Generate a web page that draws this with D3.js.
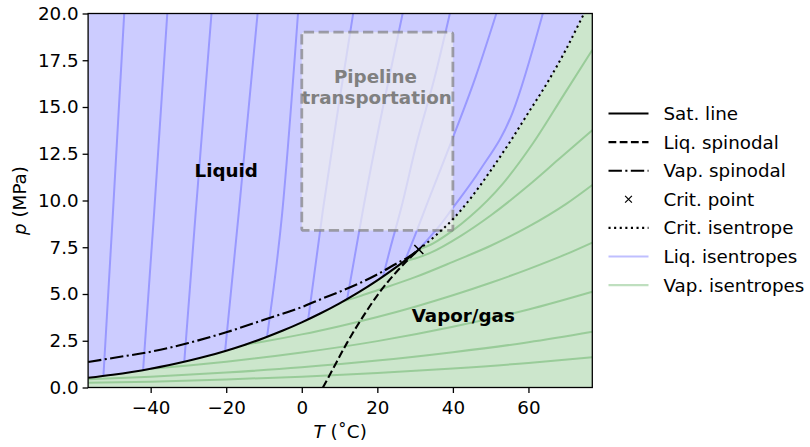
<!doctype html>
<meta charset='utf-8'>
<body style='margin:0;background:#fff'>
<script src='https://cdn.jsdelivr.net/npm/d3@7'></script>
<script>

// CO2 phase diagram
var satT = [-56.56, -50, -45, -40, -35, -30, -25, -20, -15, -10, -5, 0, 5, 10, 15, 20, 25, 28, 30, 30.98];
var satP = [0.518, 0.682, 0.832, 1.005, 1.203, 1.428, 1.682, 1.970, 2.291, 2.649, 3.046, 3.485, 3.969, 4.502, 5.086, 5.729, 6.434, 6.892, 7.214, 7.377];

var liqSpinT = [5.6, 8, 11.9, 16.2, 20.7, 25.1, 28.1, 30.98];
var liqSpinP = [0, 0.9, 2.36, 3.79, 5.12, 6.19, 6.82, 7.377];

var vapSpinT = [-56.56, -50, -40, -30, -20, -10, 0, 5, 10, 15, 20, 25, 28, 30.98];
var vapSpinP = [1.36, 1.58, 1.91, 2.38, 2.95, 3.62, 4.3, 4.72, 5.12, 5.55, 6.05, 6.62, 6.95, 7.377];

var critPoint = [30.98, 7.377];

var critIsenT = [30.98, 35, 40, 45, 50, 55, 60, 65, 70, 75, 76.9];
var critIsenP = [7.377, 8.05, 9.0, 10.2, 11.6, 13.1, 14.7, 16.3, 18.1, 20.1, 20.8];

// liquid isentropes, [T, p] pairs
var liqIsentropes = [
  [[-52.5, 0.62], [-50.0, 9.3], [-47.0, 20]],
  [[-42.0, 0.93], [-39.1, 9.3], [-35.6, 20]],
  [[-31.1, 1.38], [-28.1, 9.3], [-23.9, 20]],
  [[-20.3, 1.94], [-16.7, 9.3], [-11.7, 20]],
  [[-9.2, 2.71], [-5.2, 9.3], [-1.0, 20]],
  [[1.7, 3.64], [5.6, 9.5], [9.7, 15], [13.6, 20]],
  [[12.0, 4.72], [16.2, 9.5], [21.5, 15], [26.7, 20]],
  [[21.5, 5.93], [23.5, 7.5], [26.2, 9.5], [30.4, 13.06], [35.2, 16.6], [39.2, 20]],
  [[27.4, 6.83], [30, 8.15], [33.5, 10.0], [39.5, 13.1], [46, 16.6], [51.5, 20]],
  [[30.7, 7.34], [33.5, 7.95], [36.5, 8.65], [39.6, 9.5], [47.1, 11.6], [55.8, 14.7], [63.8, 20]]
];

// vapour isentropes, [T, p] pairs
var vapIsentropes = [
  [[30.9, 7.37], [34.8, 7.71], [40, 8.4], [44.5, 9.13], [53.3, 10.92], [61.2, 13.06], [69.6, 15.73], [76.9, 18.05]],
  [[27, 6.75], [30, 6.9], [34, 7.2], [42, 8.1], [50, 9.2], [60, 10.8], [68, 12.2], [76.9, 13.76]],
  [[11, 4.61], [15, 4.86], [20, 5.2], [30, 5.9], [40, 6.72], [50, 7.58], [60, 8.6], [70, 9.82], [76.9, 10.83]],
  [[-15, 2.29], [-10, 2.46], [0, 2.84], [10, 3.28], [20, 3.77], [30, 4.32], [40, 4.93], [50, 5.6], [60, 6.33], [70, 7.13], [76.9, 7.75]],
  [[-40, 1.005], [-30, 1.18], [-20, 1.38], [0, 1.87], [20, 2.48], [40, 3.25], [60, 4.17], [76.9, 5.12]],
  [[-56.56, 0.44], [-40, 0.58], [-20, 0.80], [0, 1.08], [20, 1.44], [40, 1.89], [60, 2.42], [76.9, 2.98]],
  [[-56.56, 0.25], [-40, 0.31], [-20, 0.43], [0, 0.58], [20, 0.78], [40, 1.02], [60, 1.31], [76.9, 1.62]]
];

var pipelineT = [0, 40];
var pipelineP = [8.4, 19.0];

var xTicks = [-40, -20, 0, 20, 40, 60];
var yTicks = [0, 2.5, 5, 7.5, 10, 12.5, 15, 17.5, 20];

var legendLabels = ['Sat. line', 'Liq. spinodal', 'Vap. spinodal', 'Crit. point',
                    'Crit. isentrope', 'Liq. isentropes', 'Vap. isentropes'];

// ---- drawing ----
var width = 810, height = 447,
    fontSize = 18.3;

var x = d3.scaleLinear().domain([-56.56, 76.9]).range([88.1, 592.3]);
var y = d3.scaleLinear().domain([0, 20]).range([387.5, 13.5]);

var svg = d3.select('body').append('svg')
    .attr('width', width)
    .attr('height', height)
    .style('font-family', 'DejaVu Sans, sans-serif');

svg.append('defs').append('clipPath').attr('id', 'clip')
  .append('rect')
    .attr('x', x.range()[0]).attr('y', y.range()[1])
    .attr('width', x.range()[1] - x.range()[0])
    .attr('height', y.range()[0] - y.range()[1]);

var plot = svg.append('g').attr('clip-path', 'url(#clip)');

var line = d3.line()
    .x(function(d) { return x(d[0]); })
    .y(function(d) { return y(d[1]); })
    .curve(d3.curveMonotoneX);

// vapour region (everything), then liquid region above sat line + critical isentrope
plot.append('rect')
    .attr('x', x.range()[0]).attr('y', y.range()[1])
    .attr('width', x.range()[1] - x.range()[0])
    .attr('height', y.range()[0] - y.range()[1])
    .attr('fill', 'rgb(204,230,204)');

var boundary = d3.zip(satT, satP).concat(d3.zip(critIsenT, critIsenP).slice(1));
plot.append('path')
    .datum(boundary)
    .attr('fill', 'rgb(204,204,255)')
    .attr('d', d3.area()
        .x(function(d) { return x(d[0]); })
        .y0(function(d) { return y(d[1]); })
        .y1(y(21))
        .curve(d3.curveMonotoneX));

plot.selectAll('.liq-isen')
  .data(liqIsentropes)
  .enter().append('path')
    .attr('class', 'liq-isen')
    .attr('d', line)
    .attr('fill', 'none')
    .attr('stroke', 'blue')
    .attr('stroke-opacity', 0.25)
    .attr('stroke-width', 2);

plot.selectAll('.vap-isen')
  .data(vapIsentropes)
  .enter().append('path')
    .attr('class', 'vap-isen')
    .attr('d', line)
    .attr('fill', 'none')
    .attr('stroke', 'green')
    .attr('stroke-opacity', 0.25)
    .attr('stroke-width', 2);

// pipeline transportation window
plot.append('rect')
    .attr('x', x(pipelineT[0]))
    .attr('y', y(pipelineP[1]))
    .attr('width', x(pipelineT[1]) - x(pipelineT[0]))
    .attr('height', y(pipelineP[0]) - y(pipelineP[1]))
    .attr('rx', 2)
    .attr('fill', 'rgb(240,240,240)')
    .attr('fill-opacity', 0.7)
    .attr('stroke', 'gray')
    .attr('stroke-opacity', 0.7)
    .attr('stroke-width', 2.8)
    .attr('stroke-dasharray', '10.3,4.5');

var lw = 2.1;
var styles = {
  sat:  {dash: null},
  liq:  {dash: '7.8,3.4'},
  vap:  {dash: '13.4,3.4,2.1,3.4'},
  crit: {dash: '2.1,3.5'}
};

plot.append('path').datum(d3.zip(satT, satP))
    .attr('d', line).attr('fill', 'none').attr('stroke', 'black').attr('stroke-width', lw);
plot.append('path').datum(d3.zip(liqSpinT, liqSpinP))
    .attr('d', line).attr('fill', 'none').attr('stroke', 'black').attr('stroke-width', lw)
    .attr('stroke-dasharray', styles.liq.dash);
plot.append('path').datum(d3.zip(vapSpinT, vapSpinP))
    .attr('d', line).attr('fill', 'none').attr('stroke', 'black').attr('stroke-width', lw)
    .attr('stroke-dasharray', styles.vap.dash);
plot.append('path').datum(d3.zip(critIsenT, critIsenP))
    .attr('d', line).attr('fill', 'none').attr('stroke', 'black').attr('stroke-width', lw)
    .attr('stroke-dasharray', styles.crit.dash);

var xMark = 'M-4.5,-4.5L4.5,4.5M-4.5,4.5L4.5,-4.5';
plot.append('path')
    .attr('transform', 'translate(' + x(critPoint[0]) + ',' + y(critPoint[1]) + ')')
    .attr('d', xMark)
    .attr('stroke', 'black')
    .attr('stroke-width', 1.6);

// region labels
plot.append('text')
    .attr('x', x(-20)).attr('y', y(11.25))
    .attr('text-anchor', 'middle')
    .attr('font-weight', 'bold').attr('font-size', fontSize)
    .text('Liquid');
plot.append('text')
    .attr('x', x(42.75)).attr('y', y(3.5))
    .attr('text-anchor', 'middle')
    .attr('font-weight', 'bold').attr('font-size', fontSize)
    .text('Vapor/gas');
var pipe = plot.append('text')
    .attr('text-anchor', 'middle')
    .attr('font-weight', 'bold').attr('font-size', fontSize)
    .attr('fill', 'gray');
pipe.append('tspan').attr('x', x(19.5)).attr('y', y(16.27)).text('Pipeline');
pipe.append('tspan').attr('x', x(19.8)).attr('y', y(15.16)).text('transportation');

// axes
var xAxis = svg.append('g')
    .attr('transform', 'translate(0,' + y.range()[0] + ')')
    .call(d3.axisBottom(x).tickValues(xTicks).tickSize(5.5).tickPadding(8).tickFormat(d3.format('d')));
var yAxis = svg.append('g')
    .attr('transform', 'translate(' + x.range()[0] + ',0)')
    .call(d3.axisLeft(y).tickValues(yTicks).tickSize(5.5).tickPadding(4).tickFormat(d3.format('.1f')));

[xAxis, yAxis].forEach(function(g) {
  g.select('.domain').remove();
  g.selectAll('.tick line').attr('stroke', 'black').attr('stroke-width', 1.3);
  g.selectAll('.tick text').attr('font-size', fontSize).attr('font-family', 'DejaVu Sans').attr('fill', 'black');
});

svg.append('rect')
    .attr('x', x.range()[0]).attr('y', y.range()[1])
    .attr('width', x.range()[1] - x.range()[0])
    .attr('height', y.range()[0] - y.range()[1])
    .attr('fill', 'none')
    .attr('stroke', 'black')
    .attr('stroke-width', 1.3);

var xLabel = svg.append('text')
    .attr('x', (x.range()[0] + x.range()[1]) / 2)
    .attr('y', 438)
    .attr('text-anchor', 'middle')
    .attr('font-size', fontSize);
xLabel.append('tspan').attr('font-style', 'italic').text('T');
xLabel.append('tspan').text(' (\u02DAC)');

var yLabel = svg.append('text')
    .attr('transform', 'translate(26,' + (y.range()[0] + y.range()[1]) / 2 + ') rotate(-90)')
    .attr('text-anchor', 'middle')
    .attr('font-size', fontSize);
yLabel.append('tspan').attr('font-style', 'italic').text('p');
yLabel.append('tspan').text(' (MPa)');

// legend
var legend = svg.append('g').attr('transform', 'translate(608.5,113.5)');
var rowH = 28.6;
var item = legend.selectAll('g')
  .data(legendLabels)
  .enter().append('g')
    .attr('transform', function(d, i) { return 'translate(0,' + i * rowH + ')'; });

item.append('text')
    .attr('x', 55).attr('dy', '0.36em')
    .attr('font-size', fontSize)
    .text(function(d) { return d; });

var handleDash = [null, styles.liq.dash, styles.vap.dash, null, styles.crit.dash, null, null];
var handleColor = ['black', 'black', 'black', 'none', 'black', 'blue', 'green'];
var handleOpacity = [1, 1, 1, 1, 1, 0.25, 0.25];

item.filter(function(d, i) { return i !== 3; })
  .append('line')
    .attr('x1', 0).attr('x2', 40)
    .attr('stroke', function(d) { return handleColor[legendLabels.indexOf(d)]; })
    .attr('stroke-opacity', function(d) { return handleOpacity[legendLabels.indexOf(d)]; })
    .attr('stroke-dasharray', function(d) { return handleDash[legendLabels.indexOf(d)]; })
    .attr('stroke-width', lw);

item.filter(function(d, i) { return i === 3; })
  .append('path')
    .attr('transform', 'translate(20,0) scale(0.75)')
    .attr('d', xMark)
    .attr('stroke', 'black')
    .attr('stroke-width', 1.6);

</script>
